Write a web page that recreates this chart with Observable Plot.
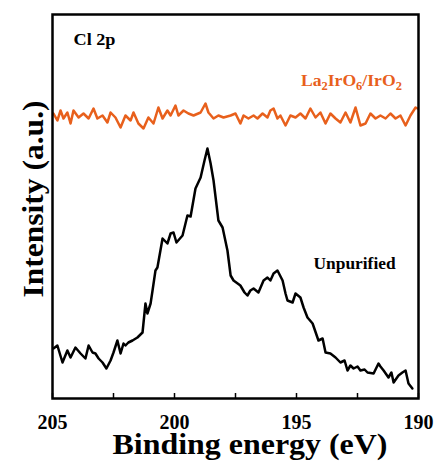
<!DOCTYPE html>
<html><head><meta charset="utf-8">
<script src="https://cdn.jsdelivr.net/npm/d3@7"></script>
<script src="https://cdn.jsdelivr.net/npm/@observablehq/plot@0.6"></script>
<style>
body{margin:0;background:#fff;}
</style>
</head><body><div id="chart"></div>
<script>
const unpurBE = [204.96,204.80,204.59,204.39,204.26,204.06,203.85,203.65,203.52,203.36,203.24,203.11,202.95,202.79,202.62,202.50,202.34,202.21,202.09,202.01,201.89,201.72,201.52,201.31,201.19,201.11,200.98,200.90,200.78,200.70,200.49,200.29,200.16,200.04,199.92,199.67,199.47,199.34,199.14,198.93,198.77,198.65,198.52,198.40,198.20,198.03,197.83,197.70,197.58,197.30,197.13,197.01,196.89,196.76,196.56,196.35,196.19,196.07,195.94,195.78,195.57,195.45,195.37,195.16,195.04,194.84,194.71,194.55,194.34,194.10,193.93,193.81,193.61,193.40,193.20,193.03,192.91,192.79,192.66,192.50,192.38,192.21,192.09,191.84,191.64,191.56,191.43,191.23,191.11,191.02,190.82,190.66,190.53,190.41,190.25];
const unpurI = [50,53,36,48,41,51,45,40,53,46,45,40,36,30,38,46,58,45,55,53,56,58,61,66,95,85,95,108,128,131,160,155,165,166,156,163,183,182,210,221,238,250,235,218,178,171,148,123,118,113,106,103,108,110,106,118,121,118,125,128,118,105,98,96,105,101,91,81,75,58,60,46,45,41,36,38,28,33,30,32,28,29,26,25,35,32,28,21,26,16,23,26,28,15,10];
const laBE = [204.96,204.80,204.67,204.55,204.39,204.26,204.14,203.93,203.73,203.52,203.32,203.16,202.95,202.75,202.62,202.42,202.21,202.01,201.80,201.68,201.48,201.27,201.07,200.86,200.66,200.49,200.29,200.16,199.96,199.84,199.63,199.43,199.22,198.93,198.73,198.61,198.40,198.20,197.99,197.70,197.50,197.30,197.17,196.97,196.76,196.60,196.39,196.19,196.07,195.94,195.78,195.66,195.45,195.25,195.04,194.84,194.63,194.43,194.22,194.02,193.81,193.61,193.40,193.20,192.99,192.79,192.58,192.38,192.17,191.97,191.76,191.56,191.35,191.15,190.94,190.74,190.53,190.33,190.12,190.04];
const laI = [285,278,288,280,286,275,288,281,285,280,290,280,283,276,286,281,271,283,278,286,275,270,281,275,291,280,288,283,293,283,288,285,283,286,295,286,280,283,281,283,285,275,283,280,283,280,285,281,288,290,280,283,273,283,281,285,280,290,281,286,275,285,280,276,286,276,291,273,275,285,280,283,280,285,280,283,273,283,291,290];
const majorTicks = [205,200,195,190];
const allTicks = [205,202.5,200,197.5,195,192.5,190];

const unpur = unpurBE.map((x,i)=>({x, y: unpurI[i]}));
const la = laBE.map((x,i)=>({x, y: laI[i]}));
const orange = "#e8601c";
const serif = "'Liberation Serif', 'Times New Roman', serif";
const T = {fontFamily: serif, fontWeight: "bold"};

const chart = Plot.plot({
  width: 437, height: 466,
  marginLeft: 52, marginRight: 19, marginTop: 14, marginBottom: 68,
  style: {fontFamily: serif, fontWeight: "bold", background: "#fff"},
  x: {domain: [205,190]},
  y: {domain: [0,384], axis: null},
  marks: [
    Plot.line(la, {x:"x", y:"y", stroke: orange, strokeWidth: 2.5, strokeLinejoin:"round"}),
    Plot.line(unpur, {x:"x", y:"y", stroke: "#000", strokeWidth: 2.5, strokeLinejoin:"round"}),
    Plot.ruleX(allTicks, {x: d=>d, y1: 0, y2: 5, stroke:"#000", strokeWidth: 1.5}),
    Plot.frame({stroke:"#000", strokeWidth: 2.5}),
    Plot.axisX({ticks: majorTicks, tickSize: 0, tickPadding: 16, fontSize: 20, ...T, fill: "#000", label: null, tickFormat: d=>String(d)}),
    Plot.text(["Binding energy (eV)"], {frameAnchor:"bottom", lineAnchor:"bottom", dx: 14.5, dy: 55, fontSize: 30, ...T, fill:"#000", className:"xlab"}),
    Plot.text(["Intensity (a.u.)"], {frameAnchor:"left", textAnchor: "middle", lineAnchor:"bottom", rotate: -90, dx: -10, dy: -7.5, fontSize: 30, ...T, fill:"#000", className:"ylab"}),
    Plot.text(["Cl 2p"], {x: 204.14, y: 354, textAnchor:"start", lineAnchor:"bottom", fontSize: 17, ...T, fill:"#000", className:"cl"}),
    Plot.text(["La2IrO6/IrO2"], {x: 192.75, y: 313, lineAnchor:"bottom", fontSize: 17, ...T, fill: orange, className:"la-label"}),
    Plot.text(["Unpurified"], {x: 192.62, y: 130, lineAnchor:"bottom", fontSize: 17, ...T, fill:"#000", className:"unp"})
  ]
});
document.getElementById("chart").appendChild(chart);

// subscripts for the formula label
const parts = [["La",false],["2",true],["IrO",false],["6",true],["/IrO",false],["2",true]];
d3.select(chart).selectAll("g.la-label text").each(function(){
  const t = d3.select(this);
  t.text(null);
  parts.forEach(([s,sub],i)=>{
    const prevSub = i>0 && parts[i-1][1];
    const ts = t.append("tspan").text(s);
    if (sub) ts.attr("font-size", 12).attr("dy", 4);
    else if (prevSub) ts.attr("dy", -4);
  });
});
// stretch labels to the reference widths
const lengths = {xlab: 275, ylab: 197, cl: 42, unp: 82, "la-label": 101};
for (const [cls, len] of Object.entries(lengths)) {
  d3.select(chart).selectAll(`g.${cls} text`).attr("textLength", len).attr("lengthAdjust", "spacingAndGlyphs");
}
</script>
</body></html>
